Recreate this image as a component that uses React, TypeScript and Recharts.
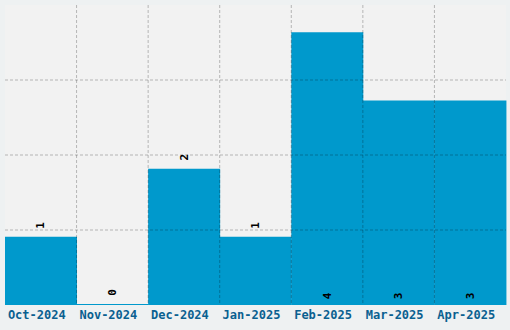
import React from 'react'
import { BarChart, Bar, XAxis, YAxis, CartesianGrid, LabelList } from 'recharts'

const months = ['Oct-2024', 'Nov-2024', 'Dec-2024', 'Jan-2025', 'Feb-2025', 'Mar-2025', 'Apr-2025']
const counts = [1, 0, 2, 1, 4, 3, 3]
const yTicks = [1.1, 2.2, 3.3]
const yMax = 4.4

const data = months.map((month, i) => ({ month, count: counts[i] }))

const FONT = '"DejaVu Sans Mono", monospace'

function ValueLabel(props: any) {
  const { x, y, width, height, value } = props
  const cx = x + width / 2
  // big bars carry the label inside at the bottom, small ones above the top
  const cy = value >= 3 ? y + height - 9 : y - 11.5
  return (
    <text
      x={cx}
      y={cy}
      transform={`rotate(-90, ${cx}, ${cy})`}
      textAnchor="middle"
      dominantBaseline="central"
      fontFamily={FONT}
      fontWeight="bold"
      fontSize={11}
      fill="#000"
    >
      {value}
    </text>
  )
}

export default function App() {
  const vLines = ({ offset }: any) =>
    months.slice(1).map((_, i) => offset.left + ((i + 1) * offset.width) / months.length)
  const hLines = ({ offset }: any) =>
    yTicks.map((t) => offset.top + offset.height * (1 - t / yMax))

  return (
    <div style={{ position: 'absolute', left: 0, top: 0, width: 510, height: 330, background: '#eef1f2' }}>
      <BarChart width={510} height={330} data={data} margin={{ top: 5, right: 4, bottom: 0, left: 5 }} barCategoryGap={0}>
        <CartesianGrid fill="#f2f2f2" horizontal={false} vertical={false} />
        <XAxis
          dataKey="month"
          height={25}
          axisLine={false}
          tickLine={false}
          tickSize={0}
          tickMargin={5}
          interval={0}
          tick={{ fill: '#0a6090', fontFamily: FONT, fontWeight: 'bold', fontSize: 12, dx: -4 }}
        />
        <YAxis hide domain={[0, yMax]} ticks={yTicks} />
        <Bar dataKey="count" fill="#0099cc" minPointSize={1} isAnimationActive={false}>
          <LabelList dataKey="count" content={ValueLabel} />
        </Bar>
        <CartesianGrid
          stroke="rgba(0,0,0,0.25)"
          strokeDasharray="3 2"
          fill="none"
          verticalCoordinatesGenerator={vLines}
          horizontalCoordinatesGenerator={hLines}
          zIndex={1000}
        />
      </BarChart>
    </div>
  )
}
